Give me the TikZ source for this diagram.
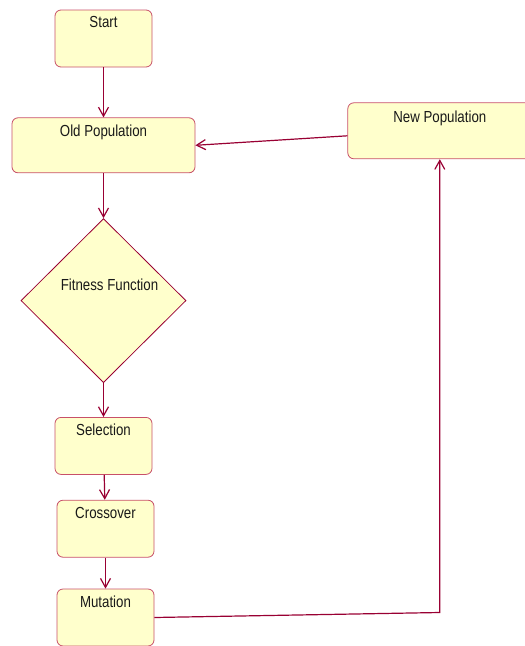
\documentclass[tikz,border=0pt]{standalone}
\usepackage{fontspec}
\setmainfont{Liberation Sans}[FakeStretch=0.83]
\usepackage{tikz}
\usetikzlibrary{arrows.meta,positioning,shapes.geometric}
\definecolor{flowline}{RGB}{153,0,51}
\definecolor{boxedge}{RGB}{200,80,105}
\definecolor{boxfill}{RGB}{255,255,204}
\definecolor{inktext}{RGB}{25,25,25}

\begin{document}
\begin{tikzpicture}[
 box/.style={draw=boxedge,fill=boxfill,rounded corners=6pt,line width=0.8pt,
             minimum width=97pt,minimum height=57pt,inner sep=0pt},
 decision/.style={diamond,draw=flowline,fill=boxfill,line width=0.8pt,aspect=1,
             minimum width=165pt,minimum height=164pt,inner sep=0pt},
 lbl/.style={inner sep=0pt,text=inktext,font=\fontsize{16}{18}\selectfont},
 arrow/.style={-{Straight Barb[length=9pt,width=10pt]},line width=1.2pt,draw=flowline}]
 \useasboundingbox (0pt,0pt) rectangle (525pt,-646pt);
 \node[box,label={[lbl,anchor=north,yshift=-7pt]north:Start}] (start) at (103.5pt,-38.5pt) {};
 \node[box,minimum width=183pt,minimum height=55pt,
       label={[lbl,anchor=north,yshift=-7pt]north:Old Population}] (oldpop) [below=50pt of start] {};
 \node[decision,label={[lbl,yshift=16pt,xshift=6pt]center:Fitness Function}] (fitness) [below=45pt of oldpop] {};
 \node[box,label={[lbl,anchor=north,yshift=-7pt]north:Selection}] (select) [below=34pt of fitness] {};
 \node[box,label={[lbl,anchor=north,yshift=-7pt]north:Crossover}] (cross) [below=25pt of select,xshift=2pt] {};
 \node[box,label={[lbl,anchor=north,yshift=-7pt]north:Mutation}] (mutate) [below=31pt of cross] {};
 \node[box,minimum width=184pt,minimum height=56pt,
       label={[lbl,anchor=north,yshift=-8pt]north:New Population}] (newpop) [right=152pt of oldpop,yshift=14.5pt] {};
 \coordinate (turn) at ([yshift=5pt]mutate.east -| newpop.south);
 \draw[arrow] (start)--(oldpop);
 \draw[arrow] (oldpop)--(fitness);
 \draw[arrow] (fitness)--(select);
 \draw[arrow] (select)--(cross);
 \draw[arrow] (cross)--(mutate);
 \draw[arrow] (mutate.east)--(turn)--(newpop.south);
 \draw[arrow] ([yshift=-5pt]newpop.west)--(oldpop.east);
\end{tikzpicture}
\end{document}
